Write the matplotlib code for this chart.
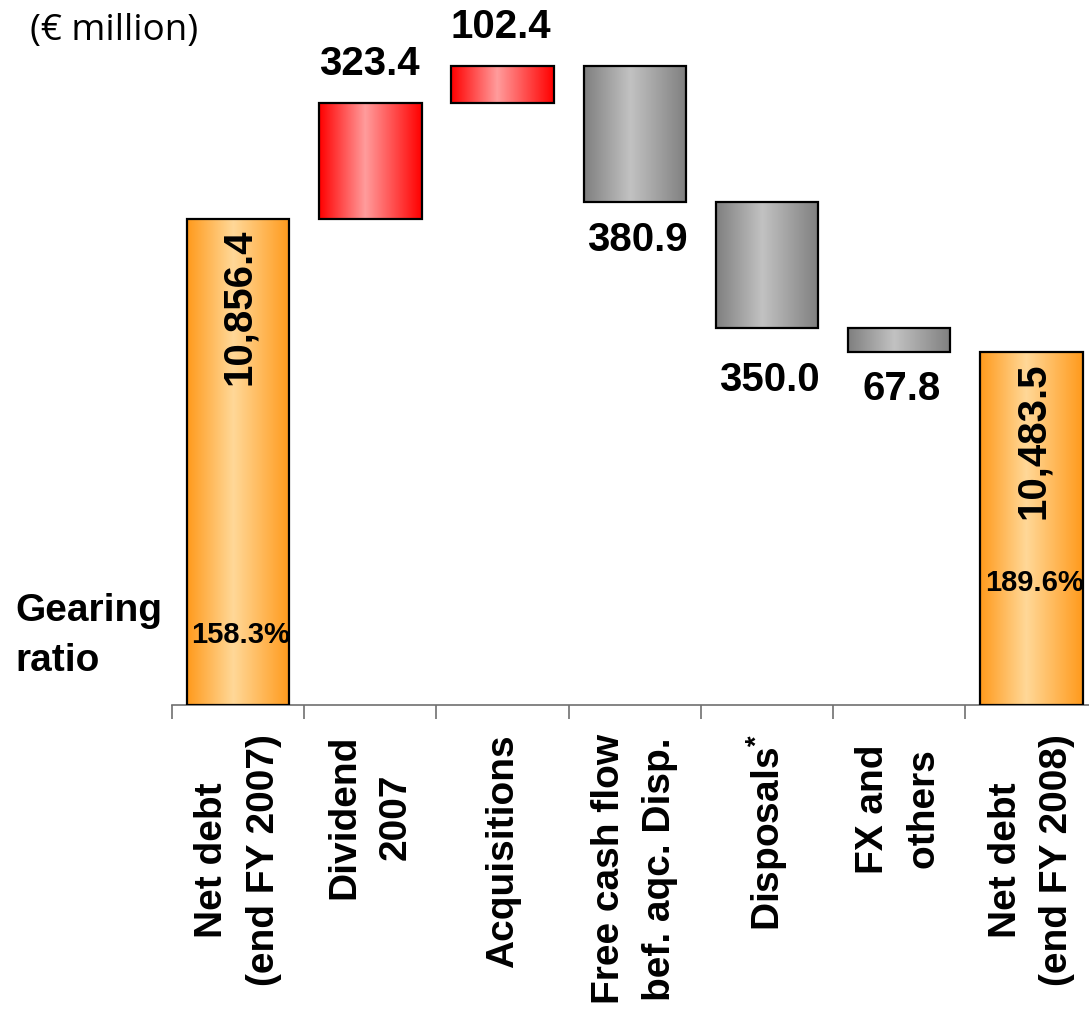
import matplotlib
matplotlib.use('Agg')
import matplotlib.pyplot as plt
from matplotlib.colors import LinearSegmentedColormap
import numpy as np

plt.rcParams['font.family'] = ['Liberation Sans', 'DejaVu Sans']
plt.rcParams['mathtext.fontset'] = 'custom'
plt.rcParams['mathtext.rm'] = 'Liberation Sans:bold'
plt.rcParams['mathtext.it'] = 'Liberation Sans:bold'

# data
categories = ['Net debt\n(end FY 2007)', 'Dividend\n2007', 'Acquisitions',
              'Free cash flow\nbef. aqc. Disp.', 'Disposals$^{*}$',
              'FX and \nothers ', 'Net debt\n(end FY 2008)']
changes = [10856.4, 323.4, 102.4, -380.9, -350.0, -67.8, 10483.5]
kinds = ['total', 'up', 'up', 'down', 'down', 'down', 'total']
value_labels = ['10,856.4', '323.4', '102.4', '380.9', '350.0', '67.8', '10,483.5']
gearing = ['158.3%', '189.6%']
gearing_y = [9695, 9840]

y_min, y_max = 9500, 11466

cmaps = {
    'total': LinearSegmentedColormap.from_list('o', [(0, '#ff9a1c'), (0.45, '#ffd898'), (1, '#ff9a1c')]),
    'up': LinearSegmentedColormap.from_list('r', [(0, '#ff0000'), (0.45, '#ff9c9c'), (1, '#ff0000')]),
    'down': LinearSegmentedColormap.from_list('g', [(0, '#7f7f7f'), (0.45, '#c2c2c2'), (1, '#7f7f7f')]),
}

fig = plt.figure(figsize=(10.89, 10.10), dpi=100)
ax = fig.add_axes([172 / 1089, 305 / 1010, 925.5 / 1089, 705 / 1010])

w = 0.775
grad = np.linspace(0, 1, 256).reshape(1, -1)
running = 0.0
for i, (c, k) in enumerate(zip(changes, kinds)):
    if k == 'total':
        bottom, top = y_min, c
        running = c
    elif c > 0:
        bottom, top = running, running + c
        running = top
    else:
        bottom, top = running + c, running
        running = bottom
    rect = ax.bar(i, top - bottom, bottom=bottom, width=w, facecolor='none',
                  edgecolor='black', linewidth=1.6, zorder=3)[0]
    img = ax.imshow(grad, extent=[i - w / 2, i + w / 2, bottom, top],
                    aspect='auto', cmap=cmaps[k], zorder=2)
    img.set_clip_path(rect)

    # value labels
    if k == 'total':
        ax.annotate(value_labels[i], (i, top), xytext=(1, -7), textcoords='offset points',
                    rotation=90, ha='center', va='top', fontsize=29, fontweight='bold')
    elif c > 0:
        ax.annotate(value_labels[i], (i, top), xytext=(-1, 14), textcoords='offset points',
                    ha='center', va='bottom', fontsize=29, fontweight='bold')
    else:
        off = -24 if i == 4 else -13
        ax.annotate(value_labels[i], (i, bottom), xytext=(2, off), textcoords='offset points',
                    ha='center', va='top', fontsize=29, fontweight='bold')

    # category labels
    ax.annotate(categories[i], (i, 0), xycoords=('data', 'axes fraction'),
                xytext=(0, -21), textcoords='offset points', rotation=90,
                ha='center', va='top', multialignment='center', linespacing=1.55,
                fontsize=28, fontweight='bold', annotation_clip=False)

for x, txt, gy in zip([0, 6], gearing, gearing_y):
    ax.text(x + 0.02, gy, txt, ha='center', va='center', fontsize=21, fontweight='bold', zorder=4)

ax.set_xlim(-0.5, 6.5)
ax.set_ylim(y_min, y_max)
ax.set_yticks([])
ax.set_xticks(np.arange(-0.5, 6.5, 1))
ax.set_xticklabels([])
ax.tick_params(axis='x', direction='out', length=10, color='#707070', width=1.2)
for s in ['left', 'top', 'right']:
    ax.spines[s].set_visible(False)
ax.spines['bottom'].set_color('#707070')
ax.spines['bottom'].set_linewidth(1.2)

fig.text(30 / 1089, 1 - 13 / 1010, '(€ million)', fontsize=26.5, family=['Open Sans', 'DejaVu Sans'],
         ha='left', va='top')
fig.text(15 / 1089, 1 - 593 / 1010, 'Gearing\nratio', fontsize=28, fontweight='bold',
         ha='left', va='top', linespacing=1.5)

fig.savefig('out.png', dpi=100)
